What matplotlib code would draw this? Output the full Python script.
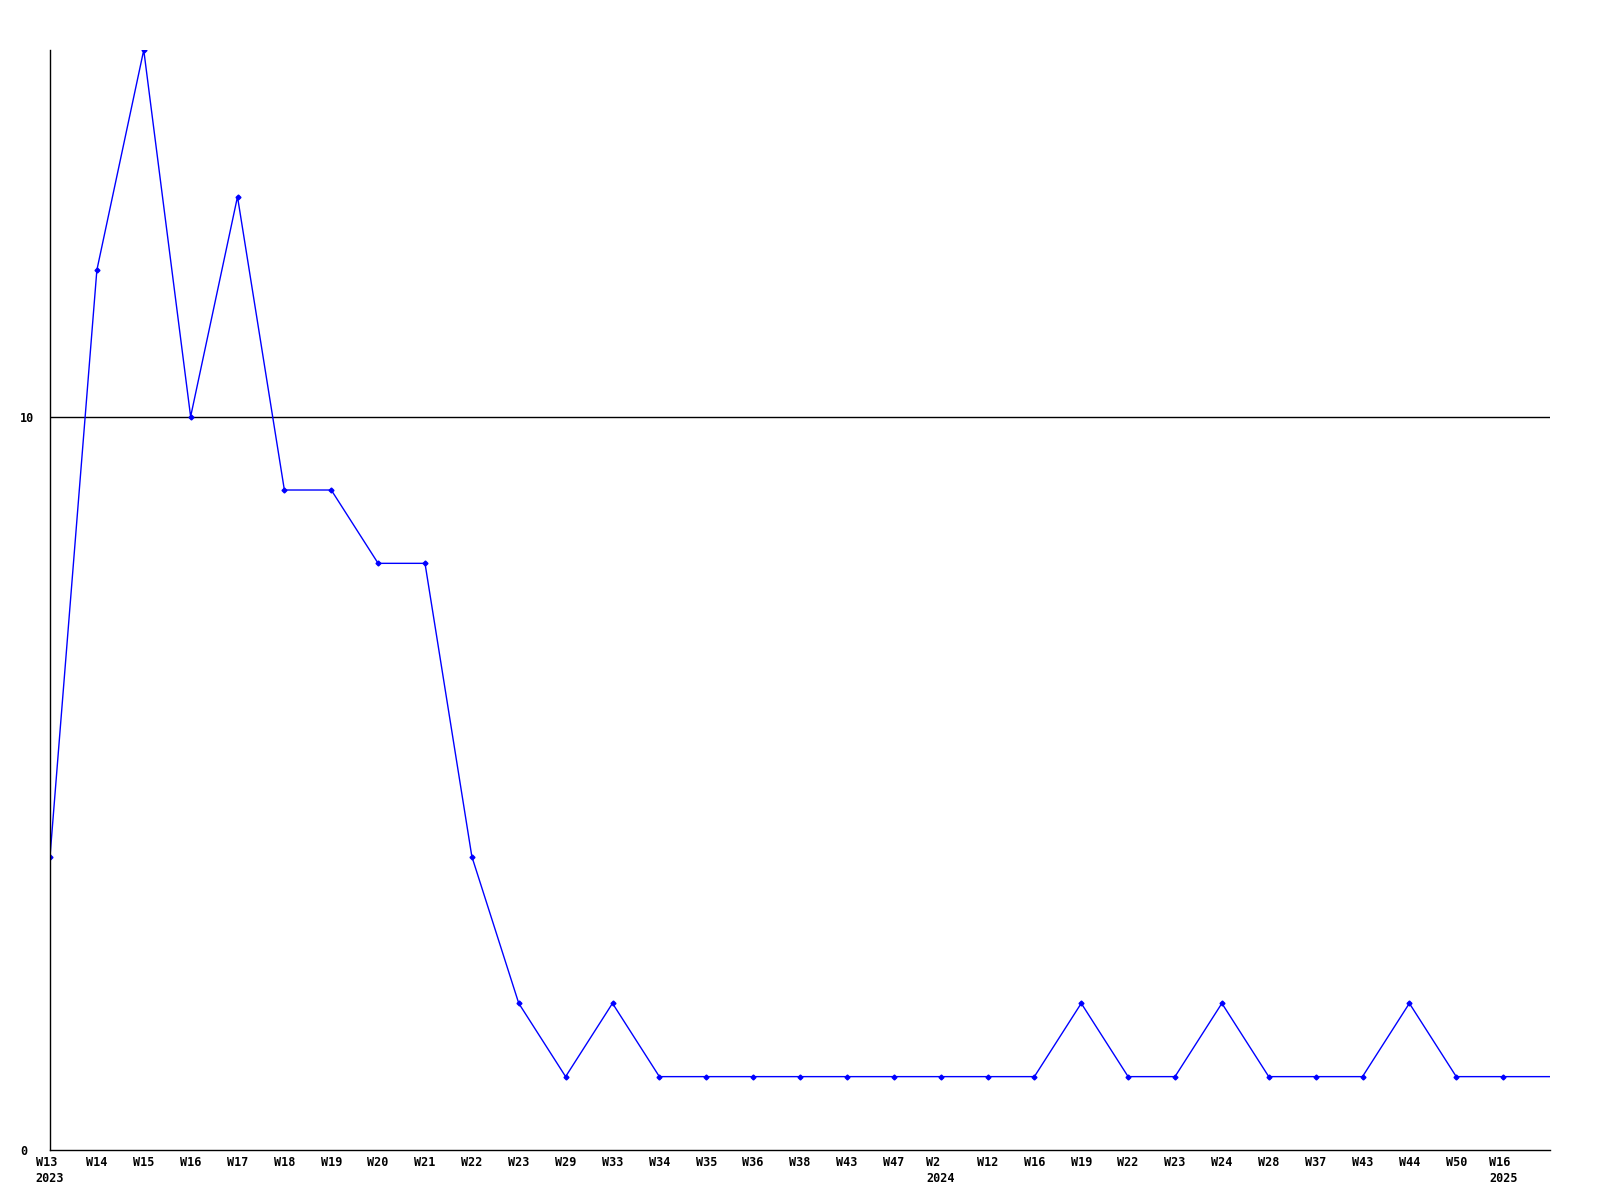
import matplotlib
matplotlib.use("Agg")
import matplotlib.pyplot as plt
import numpy as np

# weekly counts
weeks = ['W13\n2023', 'W14', 'W15', 'W16', 'W17', 'W18', 'W19', 'W20', 'W21', 'W22',
         'W23', 'W29', 'W33', 'W34', 'W35', 'W36', 'W38', 'W43', 'W47', 'W2\n2024',
         'W12', 'W16', 'W19', 'W22', 'W23', 'W24', 'W28', 'W37', 'W43', 'W44',
         'W50', 'W16\n2025']
counts = [4, 12, 15, 10, 13, 9, 9, 8, 8, 4,
          2, 1, 2, 1, 1, 1, 1, 1, 1, 1,
          1, 1, 2, 1, 1, 2, 1, 1, 1, 2,
          1, 1]

fig = plt.figure(figsize=(16, 12), dpi=100)
ax = fig.add_axes([0.03125, 0.0417, 0.9375, 0.9166])

n = len(counts)
x = np.arange(n + 1)
y = counts + [counts[-1]]  # last value runs on to the right edge
ax.plot(x, y, color='#0000ff', linewidth=1, marker='D', markersize=2.5,
        markevery=list(range(n)))

ax.set_xlim(0, n)
ax.set_ylim(0, 15)
ax.axhline(10, color='black', linewidth=1, zorder=0)

ax.set_xticks(np.arange(n))
ax.set_xticklabels(weeks, family='DejaVu Sans Mono', fontweight='bold',
                   fontsize=8.5, multialignment='left', linespacing=1.25)
ax.set_yticks([0, 10])
ax.set_yticklabels(['0', '10'], family='DejaVu Sans Mono', fontweight='bold',
                   fontsize=8.5, ha='left')
ax.tick_params(length=0)
ax.tick_params(axis='y', pad=21.5)
ax.tick_params(axis='x', pad=4.5)

for side in ['top', 'right']:
    ax.spines[side].set_visible(False)
ax.spines['left'].set_linewidth(1)
ax.spines['bottom'].set_linewidth(1)

fig.savefig('out.png', dpi=100)
